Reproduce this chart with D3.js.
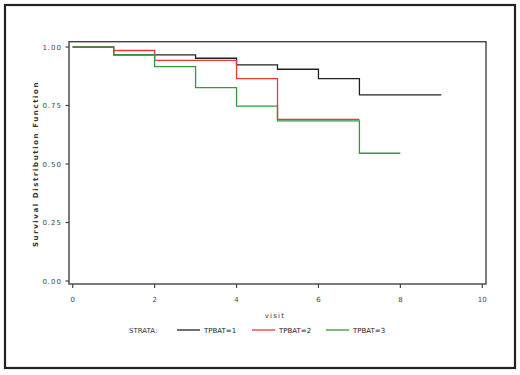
<!DOCTYPE html>
<html>
<head>
<meta charset="utf-8">
<script src="https://cdn.jsdelivr.net/npm/d3@7"></script>
<style>
  body { margin: 0; background: white; }
  text { font-family: "DejaVu Sans", sans-serif; fill: #444; }
</style>
</head>
<body>
<div id="container"></div>
<script>
let w = 520;
let h = 375;

// data
const strata = ["TPBAT=1", "TPBAT=2", "TPBAT=3"];
const colors = ["#222222", "#e8393a", "#2f9a3c"];
const times1 = [0, 1, 3, 4, 5, 6, 7, 9];
const surv1  = [1.0, 0.966, 0.952, 0.924, 0.905, 0.865, 0.795, 0.795];
const times2 = [0, 1, 2, 4, 5, 7];
const surv2  = [1.0, 0.985, 0.943, 0.865, 0.691, 0.691];
const times3 = [0, 1, 2, 3, 4, 5, 7, 8];
const surv3  = [1.0, 0.966, 0.916, 0.826, 0.747, 0.684, 0.546, 0.546];
const xTicks = [0, 2, 4, 6, 8, 10];
const yTicks = [0, 0.25, 0.5, 0.75, 1.0];

let viz = d3.select("#container")
  .append("svg")
    .attr("width", w)
    .attr("height", h)
    .style("background-color", "white");

// outer border
viz.append("rect")
  .attr("x", 5).attr("y", 5)
  .attr("width", 510).attr("height", 363)
  .attr("fill", "none")
  .attr("stroke", "#222")
  .attr("stroke-width", 2.2);

let x = d3.scaleLinear().domain([0, 10]).range([72.7, 482.3]);
let y = d3.scaleLinear().domain([0, 1]).range([281, 47]);

// plot frame
viz.append("rect")
  .attr("x", 69).attr("y", 41.7)
  .attr("width", 417).attr("height", 242.3)
  .attr("fill", "none")
  .attr("stroke", "#444")
  .attr("stroke-width", 1.4);

// y ticks
let yg = viz.append("g");
yTicks.forEach(function(t){
  yg.append("line")
    .attr("x1", 65.5).attr("x2", 69)
    .attr("y1", y(t)).attr("y2", y(t))
    .attr("stroke", "#444").attr("stroke-width", 1.2);
  yg.append("text")
    .attr("x", 62).attr("y", y(t) + 2.5)
    .attr("text-anchor", "end")
    .style("font-size", "7px")
    .style("letter-spacing", "1px")
    .text(d3.format(".2f")(t));
});

// x ticks
let xg = viz.append("g");
xTicks.forEach(function(t){
  xg.append("line")
    .attr("x1", x(t)).attr("x2", x(t))
    .attr("y1", 284).attr("y2", 288)
    .attr("stroke", "#444").attr("stroke-width", 1.2);
  xg.append("text")
    .attr("x", x(t)).attr("y", 302)
    .attr("text-anchor", "middle")
    .style("font-size", "7px")
    .text(t);
});

// axis labels
viz.append("text")
  .attr("transform", "translate(38,164) rotate(-90)")
  .attr("text-anchor", "middle")
  .style("font-size", "7px")
  .style("font-weight", "bold")
  .style("letter-spacing", "1.6px")
  .style("fill", "#333")
  .text("Survival Distribution Function");

viz.append("text")
  .attr("x", 275).attr("y", 318)
  .attr("text-anchor", "middle")
  .style("font-size", "7px")
  .style("letter-spacing", "1.2px")
  .style("fill", "#333")
  .text("visit");

// survival curves
let line = d3.line()
  .x(function(d){ return x(d[0]); })
  .y(function(d){ return y(d[1]); })
  .curve(d3.curveStepAfter);

let series = [d3.zip(times1, surv1), d3.zip(times2, surv2), d3.zip(times3, surv3)];
series.forEach(function(s, i){
  viz.append("path")
    .datum(s)
    .attr("d", line)
    .attr("fill", "none")
    .attr("stroke", colors[i])
    .attr("stroke-width", 1.3);
});

// legend
let lg = viz.append("g");
lg.append("text")
  .attr("x", 129).attr("y", 333)
  .style("font-size", "7px")
  .style("fill", "#333")
  .text("STRATA:");
let legX = [177, 252, 326];
strata.forEach(function(s, i){
  lg.append("line")
    .attr("x1", legX[i]).attr("x2", legX[i] + 23)
    .attr("y1", 330).attr("y2", 330)
    .attr("stroke", colors[i]).attr("stroke-width", 1.3);
  lg.append("text")
    .attr("x", legX[i] + 27).attr("y", 333)
    .style("font-size", "7px")
    .style("fill", "#222")
    .text(s);
});
</script>
</body>
</html>
